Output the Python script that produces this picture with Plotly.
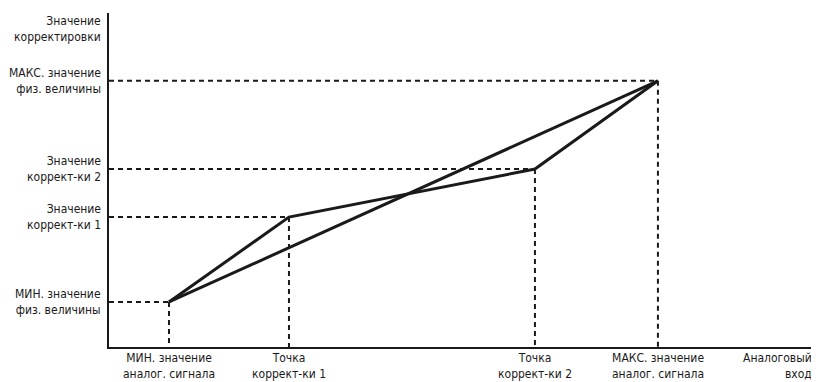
import plotly.graph_objects as go

# Data (arbitrary units; axis origin at 0)
x_labels = ["МИН. значение<br>аналог. сигнала", "Точка<br>коррект-ки 1",
            "Точка<br>коррект-ки 2", "МАКС. значение<br>аналог. сигнала"]
x_vals = [20, 60, 142, 183]
y_labels = ["МИН. значение<br>физ. величины", "Значение<br>коррект-ки 1",
            "Значение<br>коррект-ки 2", "МАКС. значение<br>физ. величины"]
y_vals = [15, 43.3, 59.3, 88.7]
y_title = "Значение<br>корректировки"
x_title = "Аналоговый<br>вход"
x_max = 235.7
y_max = 111.3

FONT = "DejaVu Sans Condensed, Liberation Sans Narrow, sans-serif"
INK = "#1a1a1a"

fig = go.Figure()

# dashed guides
for xv, yv in zip(x_vals, y_vals):
    fig.add_trace(go.Scatter(x=[0, xv], y=[yv, yv], mode="lines",
                             line=dict(color=INK, width=2, dash="5px,4px"),
                             hoverinfo="skip", showlegend=False))
    fig.add_trace(go.Scatter(x=[xv, xv], y=[yv, 0], mode="lines",
                             line=dict(color=INK, width=2, dash="5px,4px"),
                             hoverinfo="skip", showlegend=False))

# corrected broken line
fig.add_trace(go.Scatter(x=x_vals, y=y_vals, mode="lines",
                         line=dict(color=INK, width=3), showlegend=False))
# straight line min -> max
fig.add_trace(go.Scatter(x=[x_vals[0], x_vals[-1]], y=[y_vals[0], y_vals[-1]], mode="lines",
                         line=dict(color=INK, width=3), showlegend=False))

ann = []
for lab, yv in zip(y_labels, y_vals):
    ann.append(dict(text=lab, x=0, xref="paper", y=yv, yref="y", xanchor="right",
                    yanchor="middle", align="right", xshift=-6, showarrow=False))
ann.append(dict(text=y_title, x=0, xref="paper", y=1, yref="paper", xanchor="right",
                yanchor="top", align="right", xshift=-6, yshift=1, showarrow=False))
for lab, xv in zip(x_labels, x_vals):
    ann.append(dict(text=lab, x=xv, xref="x", y=0, yref="paper", xanchor="center",
                    yanchor="top", align="center", yshift=-2, showarrow=False))
ann.append(dict(text=x_title, x=1, xref="paper", y=0, yref="paper", xanchor="right",
                yanchor="top", align="right", xshift=-2, yshift=-2, showarrow=False))

fig.update_layout(
    width=808, height=374,
    margin=dict(l=101, r=0, t=5, b=35),
    paper_bgcolor="white", plot_bgcolor="white",
    font=dict(family=FONT, size=12, color=INK),
    annotations=ann,
    xaxis=dict(range=[0, x_max], showgrid=False, zeroline=False, showticklabels=False,
               ticks="", showline=True, linecolor=INK, linewidth=2, fixedrange=True),
    yaxis=dict(range=[0, y_max], showgrid=False, zeroline=False, showticklabels=False,
               ticks="", showline=True, linecolor=INK, linewidth=2, fixedrange=True),
)

fig.write_html("out.html")
